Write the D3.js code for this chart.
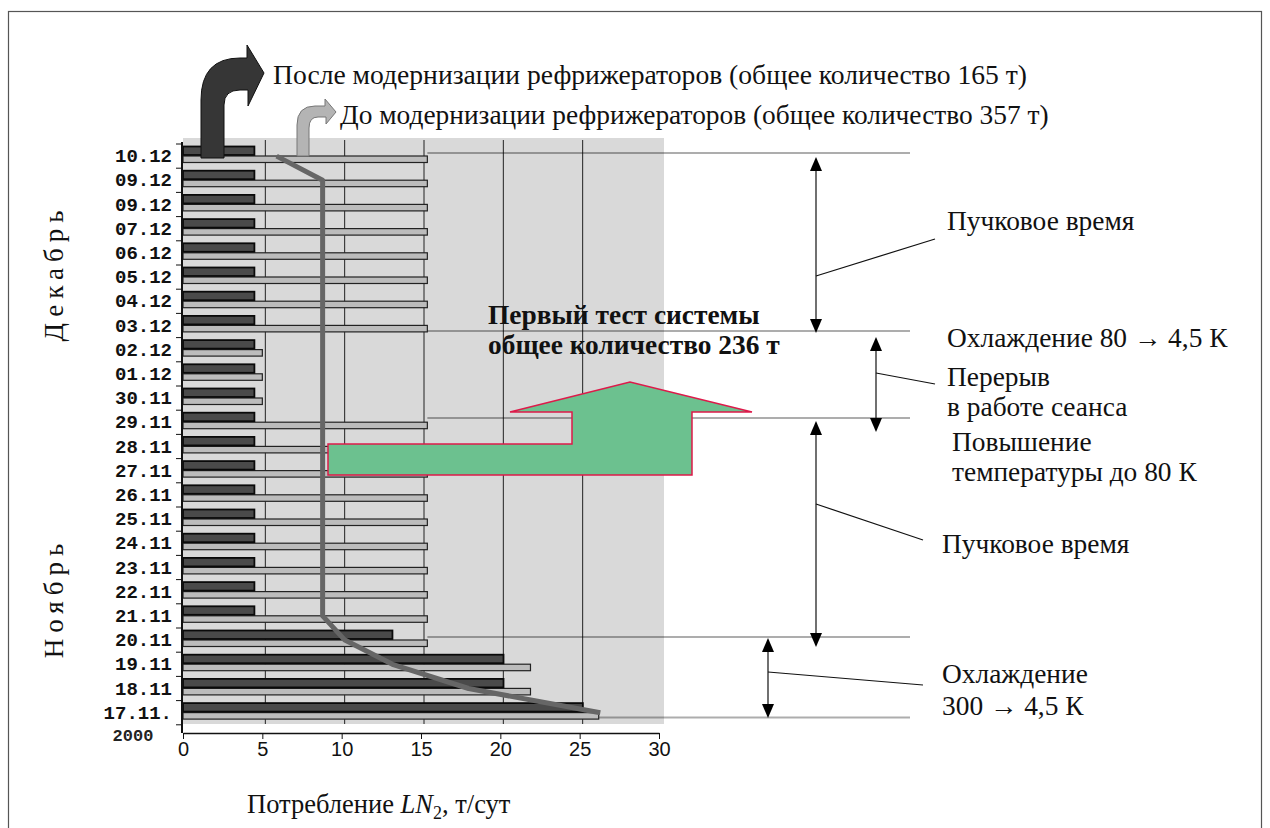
<!DOCTYPE html>
<html>
<head>
<meta charset="utf-8">
<script src="https://cdn.jsdelivr.net/npm/d3@7"></script>
<style>
  body { margin: 0; background: #fff; }
</style>
</head>
<body>
<script>
'use strict';

// dates, top to bottom (as printed on the chart)
const dates = ["10.12", "09.12", "09.12", "07.12", "06.12", "05.12", "04.12", "03.12",
    "02.12", "01.12", "30.11", "29.11", "28.11", "27.11", "26.11", "25.11", "24.11",
    "23.11", "22.11", "21.11", "20.11", "19.11", "18.11", "17.11."];

// LN2 consumption after refrigerator upgrade, t/day (dark bars)
const afterValues = [4.5, 4.5, 4.5, 4.5, 4.5, 4.5, 4.5, 4.5,
    4.5, 4.5, 4.5, 4.5, 4.5, 4.5, 4.5, 4.5, 4.5,
    4.5, 4.5, 4.5, 13.2, 20.2, 20.2, 25.2];

// LN2 consumption before refrigerator upgrade, t/day (light bars)
const beforeValues = [15.4, 15.4, 15.4, 15.4, 15.4, 15.4, 15.4, 15.4,
    5.0, 5.0, 5.0, 15.4, 15.4, 15.4, 15.4, 15.4, 15.4,
    15.4, 15.4, 15.4, 15.4, 21.9, 21.9, 26.2];

// first system test (thick grey line)
const firstTest = [5.9, 8.8, 8.8, 8.8, 8.8, 8.8, 8.8, 8.8,
    8.8, 8.8, 8.8, 8.8, 8.8, 8.8, 8.8, 8.8, 8.8,
    8.8, 8.8, 8.8, 10.2, 13.2, 18.0, 26.3];

const xTicks = [0, 5, 10, 15, 20, 25, 30];

const SERIF = "'Liberation Serif', 'Times New Roman', Times, serif";
const MONO = "'Liberation Mono', 'Courier New', monospace";
const FS = 27.4;   // annotation font size

const W = 1270, H = 828;

const svg = d3.select("body").append("svg")
    .attr("width", W)
    .attr("height", H)
    .style("font-family", SERIF);

// small helper for serif annotation text
function label(xp, yp, txt, size, weight) {
    return svg.append("text")
        .attr("x", xp).attr("y", yp)
        .style("font-family", SERIF)
        .style("font-size", size + "px")
        .style("font-weight", weight || "normal")
        .attr("fill", "#111")
        .text(txt);
}

// outer frame
svg.append("rect")
    .attr("x", 8.5).attr("y", 11.5)
    .attr("width", 1253).attr("height", 840)
    .attr("fill", "none")
    .attr("stroke", "#555")
    .attr("stroke-width", 1.2);

// scales
const x = d3.scaleLinear().domain([0, 30]).range([183, 659]);
const y = d3.scaleBand().domain(d3.range(dates.length)).range([144, 144 + 24 * 24.2]);
const step = y.step();
const yAt = k => y.range()[0] + k * step;

// back wall
svg.append("rect")
    .attr("x", 183).attr("y", 138)
    .attr("width", 481).attr("height", 586)
    .attr("fill", "#d9d9d9");

// grid lines on the back wall
svg.append("g")
    .selectAll("line")
    .data(xTicks.filter(d => d > 0 && d < 30))
    .join("line")
    .attr("x1", d => x(d) + 3).attr("x2", d => x(d) + 3)
    .attr("y1", 140).attr("y2", 724)
    .attr("stroke", "#222")
    .attr("stroke-width", 1);

// period boundary lines (category units)
const boundaries = [
    { k: 0.37, row: 0 },
    { k: 7.73, row: 7 },
    { k: 11.32, row: 11 },
    { k: 20.37, row: 20 },
    { k: 23.7, row: 23 }
];
svg.append("g")
    .selectAll("line")
    .data(boundaries)
    .join("line")
    .attr("x1", d => x(beforeValues[d.row]))
    .attr("x2", 910)
    .attr("y1", d => yAt(d.k)).attr("y2", d => yAt(d.k))
    .attr("stroke", "#000")
    .attr("stroke-opacity", 0.32)
    .attr("stroke-width", 2);

// bars
const rows = dates.map((d, i) => ({ i: i, after: afterValues[i], before: beforeValues[i] }));

const barG = svg.append("g");
barG.selectAll(".before")
    .data(rows)
    .join("rect")
    .attr("class", "before")
    .attr("x", x(0))
    .attr("y", d => y(d.i) + 12)
    .attr("width", d => x(d.before) - x(0))
    .attr("height", 6.5)
    .attr("fill", "#bcbcbc")
    .attr("stroke", "#222")
    .attr("stroke-width", 1.2);

barG.selectAll(".after")
    .data(rows)
    .join("rect")
    .attr("class", "after")
    .attr("x", x(0))
    .attr("y", d => y(d.i) + 2.5)
    .attr("width", d => x(d.after) - x(0))
    .attr("height", 8.5)
    .attr("fill", "#4a4a4a")
    .attr("stroke", "#0a0a0a")
    .attr("stroke-width", 1.8);

// first system test line
const line = d3.line()
    .x(d => x(d.v))
    .y(d => y(d.i) + step / 2);

svg.append("path")
    .datum(firstTest.map((v, i) => ({ v: v, i: i })))
    .attr("d", line)
    .attr("fill", "none")
    .attr("stroke", "#666")
    .attr("stroke-width", 5)
    .attr("stroke-linejoin", "round");

// y axis: labels at band centres, ticks at band boundaries
const yAxis = d3.axisLeft(y)
    .tickSize(0)
    .tickPadding(10)
    .tickFormat(i => dates[i]);
const yg = svg.append("g")
    .attr("transform", "translate(182,0)")
    .call(yAxis);
yg.select(".domain").remove();
yg.selectAll("text")
    .style("font-family", MONO)
    .style("font-weight", "bold")
    .style("font-size", "19px")
    .attr("fill", "#111");

svg.append("line")
    .attr("x1", 182).attr("x2", 182)
    .attr("y1", 142).attr("y2", 733)
    .attr("stroke", "#111").attr("stroke-width", 2);

svg.append("g")
    .selectAll("line")
    .data(d3.range(dates.length + 1))
    .join("line")
    .attr("x1", 176).attr("x2", 182)
    .attr("y1", k => yAt(k)).attr("y2", k => yAt(k))
    .attr("stroke", "#111");

svg.append("text")
    .attr("x", 133).attr("y", 741)
    .attr("text-anchor", "middle")
    .style("font-family", MONO)
    .style("font-weight", "bold")
    .style("font-size", "17px")
    .attr("fill", "#222")
    .text("2000");

// x axis
const xAxis = d3.axisBottom(x).tickValues(xTicks).tickSize(6).tickSizeOuter(0);
const xg = svg.append("g")
    .attr("transform", "translate(0,733)")
    .call(xAxis);
xg.select(".domain").attr("stroke", "#111").attr("stroke-width", 1.5);
xg.selectAll("line").attr("stroke", "#111");
xg.selectAll("text")
    .style("font-family", "'Liberation Sans', Arial, sans-serif")
    .style("font-size", "20px")
    .attr("fill", "#111");

// axis title
const xt = label(247, 813, null, 26.5);
xt.append("tspan").text("Потребление ");
xt.append("tspan").style("font-style", "italic").text("LN");
xt.append("tspan").attr("dy", 6).style("font-size", "18px").text("2");
xt.append("tspan").attr("dy", -6).text(", т/сут");

// month labels
[["Декабрь", 273], ["Ноябрь", 598]].forEach(m => {
    svg.append("text")
        .attr("transform", "translate(63," + m[1] + ")rotate(-90)")
        .attr("text-anchor", "middle")
        .style("font-family", SERIF)
        .style("font-size", "27px")
        .style("letter-spacing", "6px")
        .attr("fill", "#111")
        .text(m[0]);
});

// legend arrows
svg.append("path")
    .attr("d", "M201,158 L201,100 Q201,58 240,58 L247,58 L247,45 L264,73 L248,106 L248,90 L240,90 Q224,90 224,105 L224,158 Z")
    .attr("fill", "#363636")
    .attr("stroke", "#111");
svg.append("path")
    .attr("d", "M297,156 L297,125 Q297,106 315,106 L325,106 L325,99 L336,112 L326,124 L326,117 L318,117 Q309,117 309,128 L309,156 Z")
    .attr("fill", "#b4b4b4")
    .attr("stroke", "#777");

label(273, 84, "После модернизации рефрижераторов (общее количество 165 т)", 27.6);
label(340, 124, "До модернизации рефрижераторов (общее количество 357 т)", 27.4);

// green arrow for first test
svg.append("polygon")
    .attr("points", [[510, 412], [630, 382], [752, 412], [692, 412], [692, 475],
        [328, 475], [328, 444], [572, 444], [572, 412]].join(" "))
    .attr("fill", "#6cc18f")
    .attr("stroke", "#dd1a4a")
    .attr("stroke-width", 1.5);

label(488, 324, "Первый тест системы", FS, "bold");
label(488, 354, "общее количество 236 т", FS, "bold");

// period double arrows with leaders
const spans = [
    { x: 816, y1: 157, y2: 333, lead: [[816, 276], [935, 239]] },
    { x: 876, y1: 337, y2: 432, lead: [[876, 373], [935, 384]] },
    { x: 816, y1: 421, y2: 647, lead: [[816, 504], [923, 540]] },
    { x: 768, y1: 638, y2: 718, lead: [[768, 672], [923, 685]] }
];
const ah = 14, aw = 6;
spans.forEach(s => {
    svg.append("line")
        .attr("x1", s.x).attr("x2", s.x)
        .attr("y1", s.y1 + ah).attr("y2", s.y2 - ah)
        .attr("stroke", "#111").attr("stroke-width", 1.2);
    svg.append("path")
        .attr("d", `M${s.x},${s.y1} L${s.x - aw},${s.y1 + ah} L${s.x + aw},${s.y1 + ah} Z`)
        .attr("fill", "#000");
    svg.append("path")
        .attr("d", `M${s.x},${s.y2} L${s.x - aw},${s.y2 - ah} L${s.x + aw},${s.y2 - ah} Z`)
        .attr("fill", "#000");
    svg.append("line")
        .attr("x1", s.lead[0][0]).attr("y1", s.lead[0][1])
        .attr("x2", s.lead[1][0]).attr("y2", s.lead[1][1])
        .attr("stroke", "#111").attr("stroke-width", 1.2);
});

// period labels
const notes = [
    ["Пучковое время", 947, 230],
    ["Охлаждение 80 \u2192 4,5 К", 947, 347],
    ["Перерыв", 947, 386],
    ["в работе сеанса", 947, 416],
    ["Повышение", 952, 451],
    ["температуры до 80 К", 952, 481],
    ["Пучковое время", 942, 553],
    ["Охлаждение", 942, 683],
    ["300 \u2192 4,5 К", 942, 715]
];
notes.forEach(d => label(d[1], d[2], d[0], FS));
</script>
</body>
</html>
